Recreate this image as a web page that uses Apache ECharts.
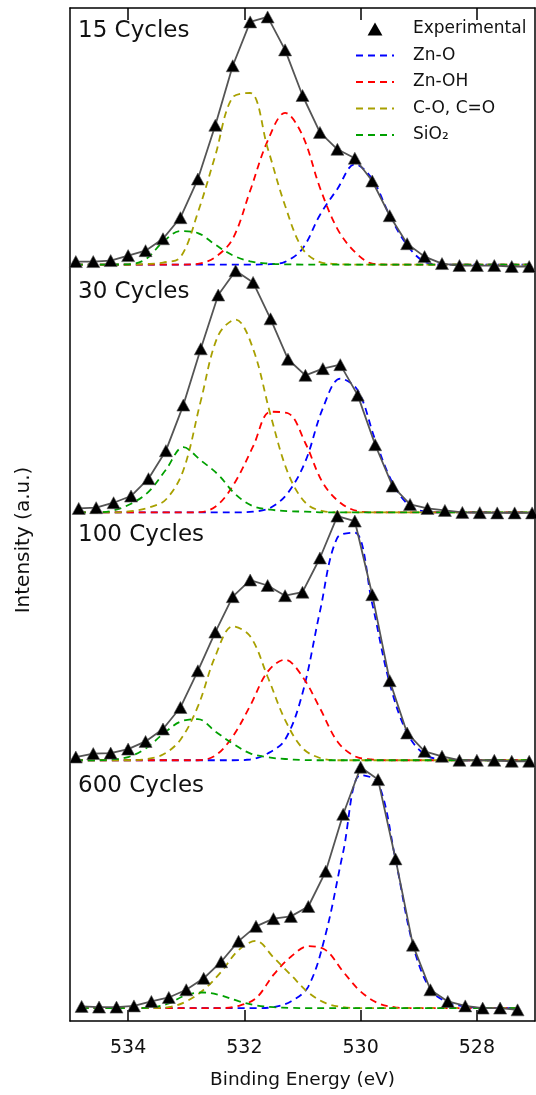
<!DOCTYPE html>
<html>
<head>
<meta charset="utf-8">
<script src="https://cdn.jsdelivr.net/npm/echarts@6/dist/echarts.min.js"></script>
<style>
  html, body { margin: 0; padding: 0; background: #fff; }
  #chart { width: 536px; height: 1095px; }
</style>
</head>
<body>
<div id="chart"></div>
<script>
// ---------- data (binding energy in eV, intensity in a.u. above each panel's baseline) ----------
const panelLabels = ['15 Cycles', '30 Cycles', '100 Cycles', '600 Cycles'];
const componentNames = ['Zn-O', 'Zn-OH', 'C-O, C=O', 'SiO₂'];
const xTicks = [528, 530, 532, 534];

// 15 cycles
const energy15 = [534.9,534.6,534.3,534.0,533.7,533.4,533.1,532.8,532.5,532.2,531.9,531.6,531.3,531.0,530.7,530.4,530.1,529.8,529.5,529.2,528.9,528.6,528.3,528.0,527.7,527.4,527.1];
const exp15    = [1.2,1.2,1.6,3.6,5.6,10.4,18.9,34.5,56.2,80.2,97.9,99.9,86.6,68.2,53.3,46.5,42.9,33.7,19.7,8.4,3.2,0.4,-0.4,-0.4,-0.4,-0.8,-0.8];
const znO15    = [0,0,0,0,0,0,0,0,0,0,0,0.1,1.1,6.4,20,30.5,40.5,34.5,19.8,7.8,1.1,0,0,0,0,0,0];
const znOH15   = [0,0,0,0,0,0,0,0.3,3,10.4,29.8,49.9,61.2,52.1,31,14.4,5.1,0.4,0,0,0,0,0,0,0,0,0];
const co15     = [0,0,0,0,0.2,0.8,3,21,44,67.5,69.2,47,23.8,6.4,1,0.2,0,0,0,0,0,0,0,0,0,0,0];
const sio15    = [0,0,0,0.1,2.1,9.1,13.5,12.7,8,3.7,1.3,0.4,0.1,0,0,0,0,0,0,0,0,0,0,0,0,0,0];

// 30 cycles
const energy30 = [534.85,534.55,534.25,533.95,533.65,533.35,533.05,532.75,532.45,532.15,531.85,531.55,531.25,530.95,530.65,530.35,530.05,529.75,529.45,529.15,528.85,528.55,528.25,527.95,527.65,527.35,527.05];
const exp30    = [1.6,1.9,3.9,6.6,13.6,24.9,43.3,66,87.7,97.5,92.8,78.1,61.8,55.3,58,59.6,47.3,27.3,10.6,3.2,1.6,0.8,0,-0.1,-0.2,-0.2,-0.2];
const znO30    = [0,0,0,0,0,0,0,0,0,0,0.3,1.9,7.9,20.6,42,54,49.3,29.3,11.9,2.5,0.3,0,0,0,0,0,0];
const znOH30   = [0,0,0,0,0,0,0,0.1,3.2,12.6,26.6,40.6,40,27.9,11.9,3.9,0.5,0,0,0,0,0,0,0,0,0,0];
const co30     = [0,0,0,0.5,1.9,5.2,17,45,71.4,77.8,66,39.3,15.9,3.9,0.5,0,0,0,0,0,0,0,0,0,0,0,0];
const sio30    = [0,0,0.8,3.5,8.3,17.2,26.3,21,15.2,7.2,2.5,1.1,0.5,0.3,0,0,0,0,0,0,0,0,0,0,0,0,0];

// 100 cycles
const energy100 = [534.9,534.6,534.3,534.0,533.7,533.4,533.1,532.8,532.5,532.2,531.9,531.6,531.3,531.0,530.7,530.4,530.1,529.8,529.5,529.2,528.9,528.6,528.3,528.0,527.7,527.4,527.1];
const exp100    = [1.3,2.7,2.9,4.5,7.6,12.6,21.3,36.1,51.7,66,72.7,70.5,66.4,67.8,81.6,98.5,96.5,66.8,32.1,11,3.6,1.6,0,0,0,-0.4,-0.4];
const znO100    = [0,0,0,0,0,0,0,0,0,0,0.3,2.7,8.3,27,60,89.8,91.8,63.1,31,11,2.3,0.3,0,0,0,0,0];
const znOH100   = [0,0,0,0,0,0,0,0,1.9,9.6,22,35.7,40.6,33.7,21,7.6,1.6,0.3,0,0,0,0,0,0,0,0,0];
const co100     = [0,0,0,0,0.4,2.3,8.3,21.7,42,54,50,33.7,16.3,4.9,0.9,0,0,0,0,0,0,0,0,0,0,0,0];
const sio100    = [0,0,0.3,1.3,4.7,10.6,15.6,16.6,11.6,6.7,2.8,1.2,0.5,0.1,0,0,0,0,0,0,0,0,0,0,0,0,0];

// 600 cycles
const energy600 = [534.8,534.5,534.2,533.9,533.6,533.3,533.0,532.7,532.4,532.1,531.8,531.5,531.2,530.9,530.6,530.3,530.0,529.7,529.4,529.1,528.8,528.5,528.2,527.9,527.6,527.3];
const exp600    = [0.7,0.4,0.4,0.9,2.7,4.3,7.4,12,18.7,27,33,36.1,37,41,55.2,78.2,97.2,92.2,60.2,25.4,7.4,2.7,0.9,0,0,-0.7];
const znO600    = [0,0,0,0,0,0,0,0,0,0,0,0.4,2.7,8.7,30,63,94,91,60,25.5,7.5,2.3,0.7,0,0,0];
const znOH600   = [0,0,0,0,0,0,0,0,0,0.9,4,13.4,20.7,25,23.4,14.7,6.7,2,0.3,0,0,0,0,0,0,0];
const co600     = [0,0,0,0,0,0.4,2.7,7.4,14.6,23.4,27.1,20.5,13.4,6.3,2,0.4,0,0,0,0,0,0,0,0,0,0];
const sio600    = [0,0,0,0,0.3,1.9,5.3,6.3,5.1,2.8,1.1,0.4,0.1,0,0,0,0,0,0,0,0,0,0,0,0,0];

// ---------- layout / style ----------
const panelOffsets = [300, 200, 100, 0];           // vertical stacking of the traces
const labelY = [31, 292, 535, 786];                // pixel centre of panel captions
const compColors = ['#0000ff', '#ff0000', '#a8a000', '#00a000'];
const FONT = '"DejaVu Sans", Verdana, sans-serif';

const panels = [
  { energy: energy15,  exp: exp15,  comps: [znO15, znOH15, co15, sio15] },
  { energy: energy30,  exp: exp30,  comps: [znO30, znOH30, co30, sio30] },
  { energy: energy100, exp: exp100, comps: [znO100, znOH100, co100, sio100] },
  { energy: energy600, exp: exp600, comps: [znO600, znOH600, co600, sio600] }
];

const series = [];
panels.forEach((p, pi) => {
  const off = panelOffsets[pi];
  const pts = arr => p.energy.map((e, i) => [e, arr[i] + off]);
  p.comps.forEach((c, ci) => {
    series.push({
      name: componentNames[ci], type: 'line', data: pts(c),
      symbol: 'none', smooth: 0.35, z: 2,
      lineStyle: { color: compColors[ci], width: 1.8, type: [7, 5] },
      itemStyle: { color: compColors[ci] }
    });
  });
  series.push({
    name: 'Fit', type: 'line', data: pts(p.exp), symbol: 'none', z: 3,
    lineStyle: { color: '#555', width: 1.8 }, itemStyle: { color: '#555' }
  });
  series.push({
    name: 'Experimental', type: 'scatter', data: pts(p.exp), z: 4,
    symbol: 'triangle', symbolSize: [13, 12],
    itemStyle: { color: '#000', borderColor: '#555', borderWidth: 0.6, opacity: 1 }
  });
});

const hiddenDot = { color: 'rgba(0,0,0,0)', borderWidth: 0, opacity: 0 };
const legendData = [{ name: 'Experimental', icon: 'path://M6,0L12,10.5L0,10.5Z',
                      itemStyle: { color: '#000', borderWidth: 0 } }]
  .concat(componentNames.map(n => ({ name: n, itemStyle: hiddenDot })));

const chart = echarts.init(document.getElementById('chart'), null, { renderer: 'canvas' });
chart.setOption({
  animation: false,
  backgroundColor: '#fff',
  grid: { left: 70, right: 1, top: 8, bottom: 68, containLabel: false },
  legend: {
    data: legendData,
    orient: 'vertical', left: 355, top: 20, padding: 0,
    itemWidth: 38, itemHeight: 13, itemGap: 8.5, symbolKeepAspect: true,
    textStyle: { fontSize: 17, fontFamily: FONT, color: '#111', lineHeight: 18, padding: [0, 0, 0, 14] },
    selectedMode: false
  },
  xAxis: [
    {
      type: 'value', position: 'bottom', min: 527, max: 535, inverse: true,
      axisLine: { show: true, onZero: false, lineStyle: { color: '#000', width: 1.5 } },
      axisTick: { show: true, inside: true, length: 11, customValues: xTicks, lineStyle: { color: '#000', width: 1.5 } },
      axisLabel: { show: true, customValues: xTicks, fontSize: 19, fontFamily: FONT, color: '#111', margin: 18 },
      splitLine: { show: false },
      name: 'Binding Energy (eV)', nameLocation: 'middle', nameGap: 50,
      nameTextStyle: { fontSize: 18.5, fontFamily: FONT, color: '#111' }
    },
    {
      type: 'value', position: 'top', min: 527, max: 535, inverse: true,
      axisLine: { show: true, onZero: false, lineStyle: { color: '#000', width: 1.5 } },
      axisTick: { show: true, inside: true, length: 12, customValues: xTicks, lineStyle: { color: '#000', width: 1.5 } },
      axisLabel: { show: false },
      splitLine: { show: false }
    }
  ],
  yAxis: [
    {
      type: 'value', position: 'left', min: -5.2, max: 403.5,
      axisLine: { show: true, onZero: false, lineStyle: { color: '#000', width: 1.5 } },
      axisTick: { show: false }, axisLabel: { show: false }, splitLine: { show: false }
    },
    {
      type: 'value', position: 'right', min: -5.2, max: 403.5,
      axisLine: { show: true, onZero: false, lineStyle: { color: '#000', width: 1.5 } },
      axisTick: { show: false }, axisLabel: { show: false }, splitLine: { show: false }
    }
  ],
  graphic: panelLabels.map((t, i) => ({
    type: 'text', x: 78, y: labelY[i], z: 10,
    style: { text: t, fontSize: 23, fontFamily: FONT, fill: '#111', verticalAlign: 'middle' }
  })).concat([{
    type: 'text', x: 24, y: 540, rotation: Math.PI / 2, z: 10,
    style: { text: 'Intensity (a.u.)', fontSize: 20, fontFamily: FONT, fill: '#111',
             align: 'center', verticalAlign: 'middle' }
  }]),
  series: series
});
</script>
</body>
</html>
